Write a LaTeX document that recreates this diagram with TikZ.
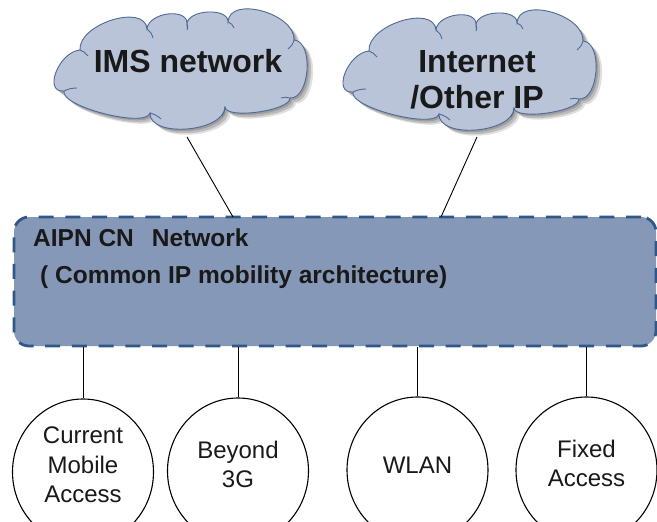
\documentclass[tikz,border=0pt]{standalone}
\usepackage{fontspec}
\setmainfont{Liberation Sans}
\usetikzlibrary{shapes.geometric}
\definecolor{cloudfill}{HTML}{B9C4D9}
\definecolor{cloudline}{HTML}{4F6A96}
\definecolor{boxfill}{HTML}{8698B7}
\definecolor{boxline}{HTML}{2F5888}
\def\mycloudshape{(64,91) .. controls (42.7,93) and (58.7,52) .. (80,50)
 .. controls (78,24) and (145,3) .. (147,29)
 .. controls (148.3,12.3) and (188.3,7.3) .. (187,24)
 .. controls (187.7,9.3) and (228.7,7.3) .. (228,22)
 .. controls (229.3,-4.7) and (295.3,13.3) .. (294,40)
 .. controls (314,41.3) and (310,99.3) .. (290,98)
 .. controls (290.7,110.7) and (225.7,119.7) .. (225,107)
 .. controls (224.3,132.3) and (149.3,138.3) .. (150,113)
 .. controls (146,128.5) and (60,106.5) .. (64,91) -- cycle}
\begin{document}
\begin{tikzpicture}[x=1pt,y=-1pt,
  cloudtext/.style={font=\fontsize{32}{36}\selectfont\bfseries, text=black!90, inner sep=0, anchor=base},
  boxtext/.style={font=\fontsize{24.5}{28}\selectfont\bfseries, text=black!90, inner sep=0, anchor=base west},
  acctext/.style={font=\fontsize{24}{28}\selectfont, text=black!90, inner sep=0, anchor=base},
  accnode/.style={ellipse, draw=black, line width=1.1pt, minimum width=141pt, minimum height=146pt, inner sep=0},
  aipnbox/.style={rectangle, rounded corners=15pt, fill=boxfill, draw=boxline, line width=2.8pt, dash pattern=on 15pt off 11.7pt, minimum width=642pt, minimum height=129pt, inner sep=0},
  link/.style={draw=black, line width=0.9pt},
  innerarc/.style={draw=cloudline, line width=0.9pt},
  cloudpic/.pic={
    \fill[black, opacity=0.16, shift={(2,2)}] \mycloudshape;
    \fill[black, opacity=0.16, shift={(4,4)}] \mycloudshape;
    \fill[black, opacity=0.12, shift={(6,5.5)}] \mycloudshape;
    \filldraw[fill=cloudfill, draw=cloudline, line width=0.9pt] \mycloudshape;
    \draw[innerarc] (147,29) .. controls (150,31) and (152,34) .. (153,38);
    \draw[innerarc] (187,24) .. controls (188,26) and (188,28) .. (187,30);
    \draw[innerarc] (228,22) .. controls (231,23) and (233,25) .. (234,28);
    \draw[innerarc] (294,40) .. controls (293,44) and (291,47) .. (288,49);
    \draw[innerarc] (150,113) .. controls (154,114) and (158,116) .. (161,119);
    \draw[innerarc] (225,107) .. controls (225,110) and (224,113) .. (222,116);
    \draw[innerarc] (80,50) .. controls (83,51) and (86,53) .. (88,56);
    \draw[innerarc] (64,91) .. controls (68,89) and (72,88) .. (77,88);
    \draw[innerarc] (290,98) .. controls (287,97) and (284,97) .. (281,98);
  }
]
\useasboundingbox (0,0) rectangle (657,522);
\fill[white] (0,0) rectangle (657,522);
\clip (0,0) rectangle (657,522);

% clouds
\pic (ims) at (0,0) {cloudpic};
\pic (inet) at (289,1) {cloudpic};
\node[cloudtext] (imstxt) at (188,72) {IMS network};
\node[cloudtext] (inettxta) at (477,72) {Internet};
\node[cloudtext] (inettxtb) at (477,108) {/Other IP};

% core network box
\node[aipnbox] (aipn) at (335,281.5) {};
\node[boxtext] (aipntxta) at (33,246) {AIPN CN\hspace{18pt}Network};
\node[boxtext] (aipntxtb) at (40,283) {( Common IP mobility architecture)};

% links from clouds
\coordinate (imsfoot) at (187,137);
\coordinate (inetfoot) at (477,137);
\coordinate (imsjoin) at (233,217);
\coordinate (inetjoin) at (441,217);
\draw[link] (imsfoot) -- (imsjoin);
\draw[link] (inetfoot) -- (inetjoin);

% access networks
\node[accnode] (c1) at (83,472) {};
\node[accnode] (c2) at (238,471) {};
\node[accnode] (c3) at (417.5,470) {};
\node[accnode] (c4) at (586.5,470) {};

\node[acctext] (c1a) at (83,443) {Current};
\node[acctext] (c1b) at (83,473) {Mobile};
\node[acctext] (c1c) at (83,502) {Access};
\node[acctext] (c2a) at (238,458) {Beyond};
\node[acctext] (c2b) at (238,487) {3G};
\node[acctext] (c3a) at (417.5,473) {WLAN};
\node[acctext] (c4a) at (586.5,457) {Fixed};
\node[acctext] (c4b) at (586.5,486) {Access};

\draw[link] (c1.north |- aipn.south) -- (c1.north);
\draw[link] (c2.north |- aipn.south) -- (c2.north);
\draw[link] (c3.north |- aipn.south) -- (c3.north);
\draw[link] (c4.north |- aipn.south) -- (c4.north);
\end{tikzpicture}
\end{document}
